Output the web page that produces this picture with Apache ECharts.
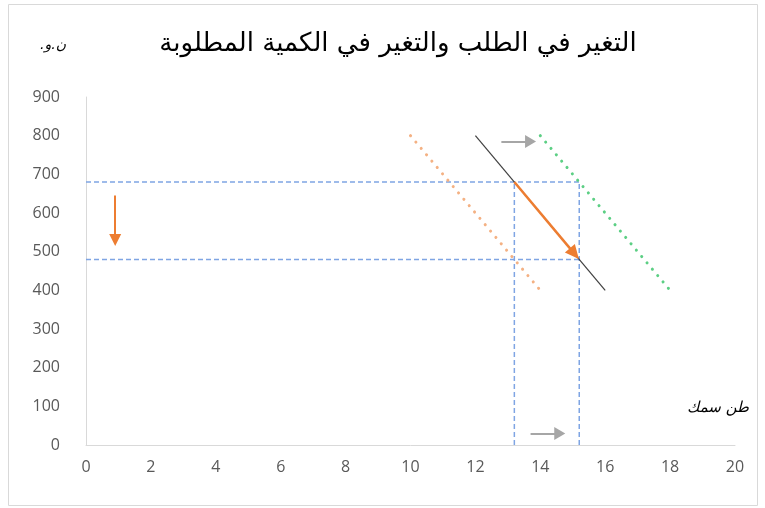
<!DOCTYPE html>
<html>
<head>
	<meta charset="utf-8"/>
	<title>التغير في الطلب</title>
	<style>
		* { margin: 0; padding: 0; }
		body { background: #fff; }
	</style>
</head>
<body>
	<div style="width: 765px;height:508px;" id="myChart"></div>

	<script src="https://cdn.jsdelivr.net/npm/echarts@6/dist/echarts.min.js"></script>
	<script>
		// demand curves
		var demandBase = [[12, 800], [16, 400]];
		var demandLow = [[10, 800], [14, 400]];
		var demandHigh = [[14, 800], [18, 400]];
		// guide lines
		var priceLevels = [680, 480];
		var qtyLevels = [13.2, 15.2];
		// arrows [from, to]
		var moveArrow = [[13.2, 680], [15.05, 495]];
		var priceArrow = [[0.9, 645], [0.9, 530]];
		var shiftTopArrow = [[12.8, 785], [13.7, 785]];
		var shiftBottomArrow = [[13.7, 30], [14.6, 30]];

		var xTicks = { min: 0, max: 20, interval: 2 };
		var yTicks = { min: 0, max: 900, interval: 100 };

		var myChart = echarts.init(document.getElementById('myChart'));

		function guide(points) {
			return {
				type: 'line',
				data: points,
				symbol: 'none',
				silent: true,
				lineStyle: { color: '#7fa5e3', width: 1.5, type: [5, 3] },
				z: 1
			};
		}

		function arrow(pts, color, width, size) {
			return {
				type: 'line',
				data: [],
				silent: true,
				markLine: {
					silent: true,
					animation: false,
					symbol: ['none', 'triangle'],
					symbolSize: size,
					label: { show: false },
					emphasis: { disabled: true },
					lineStyle: { color: color, width: width, type: 'solid' },
					data: [[{ coord: pts[0] }, { coord: pts[1] }]]
				}
			};
		}

		var series = [];
		priceLevels.forEach(function (p) {
			series.push(guide([[0, p], [qtyLevels[1], p]]));
		});
		qtyLevels.forEach(function (q) {
			series.push(guide([[q, 0], [q, priceLevels[0]]]));
		});

		series.push({
			type: 'line', data: demandLow, symbol: 'none',
			lineStyle: { color: '#f4b183', width: 3, type: [0.1, 8.2], cap: 'round' }
		});
		series.push({
			type: 'line', data: demandHigh, symbol: 'none',
			lineStyle: { color: '#5ccf84', width: 3, type: [0.1, 8.2], cap: 'round' }
		});
		series.push({
			type: 'line', data: demandBase, symbol: 'none',
			lineStyle: { color: '#404040', width: 1.2 }
		});

		series.push(arrow(moveArrow, '#ed7d31', 2.5, [13, 14]));
		series.push(arrow(priceArrow, '#ed7d31', 2, [12, 12]));
		series.push(arrow(shiftTopArrow, '#a6a6a6', 2, [13, 11]));
		series.push(arrow(shiftBottomArrow, '#a6a6a6', 2, [13, 11]));

		var option = {
			animation: false,
			title: {
				text: 'التغير في الطلب والتغير في الكمية المطلوبة',
				left: 393,
				textAlign: 'center',
				top: 26,
				textStyle: { fontFamily: 'DejaVu Sans', fontSize: 26, fontWeight: 'normal', color: '#000' }
			},
			graphic: [
				{
					type: 'rect',
					shape: { x: 8.5, y: 4.5, width: 749, height: 501 },
					style: { fill: 'none', stroke: '#d9d9d9', lineWidth: 1 },
					silent: true
				},
				{
					type: 'text', left: 40, top: 38,
					style: { text: '\u202Eن.و.\u202C', font: 'italic 14px DejaVu Sans', fill: '#000' }
				},
				{
					type: 'text', left: 687, top: 401,
					style: { text: 'طن سمك', font: 'italic 15px DejaVu Sans', fill: '#000' }
				}
			],
			grid: { left: 86, right: 30, top: 97, bottom: 63 },
			xAxis: {
				type: 'value',
				min: xTicks.min, max: xTicks.max, interval: xTicks.interval,
				splitLine: { show: false },
				axisTick: { show: false },
				axisLine: { lineStyle: { color: '#d9d9d9' } },
				axisLabel: { color: '#595959', fontSize: 16, margin: 14, fontFamily: 'Open Sans' }
			},
			yAxis: {
				type: 'value',
				min: yTicks.min, max: yTicks.max, interval: yTicks.interval,
				splitLine: { show: false },
				axisTick: { show: false },
				axisLine: { show: true, lineStyle: { color: '#d9d9d9' } },
				axisLabel: { color: '#595959', fontSize: 16, margin: 26, fontFamily: 'Open Sans' }
			},
			series: series
		};

		myChart.setOption(option);
	</script>
</body>
</html>
